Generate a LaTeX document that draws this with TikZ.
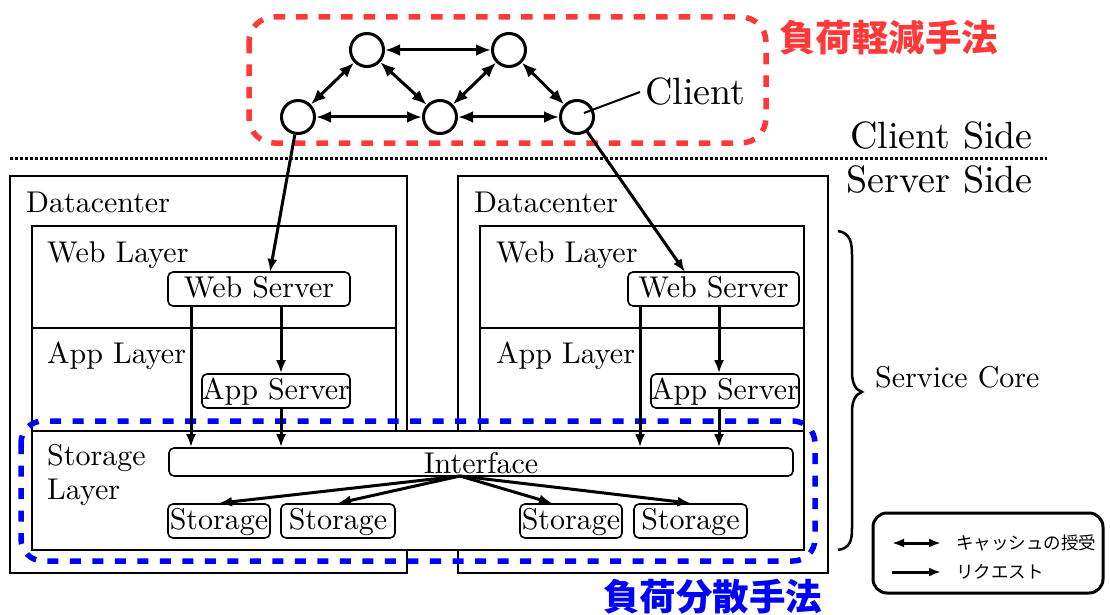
\documentclass[tikz,border=0pt]{standalone}
\usepackage{fontspec}
\setmainfont{lmroman10-regular.otf}
\newfontfamily\jp{Noto Sans CJK JP}
\usetikzlibrary{arrows.meta,calc}
\definecolor{loadred}{RGB}{255,56,56}
\definecolor{loadblue}{RGB}{0,0,255}
\newcommand\midsize{\fontsize{30}{36}\selectfont}
\newcommand\bigsize{\fontsize{38}{44}\selectfont}
\begin{document}
\begin{tikzpicture}[x=1pt,y=-1pt,
  frame/.style={draw,line width=1.6pt},
  peer/.style={circle,draw,line width=3pt,minimum size=33pt,inner sep=0pt,fill=white},
  srv/.style={draw,line width=1.6pt,rounded corners=5pt,fill=white,inner sep=0pt,
    text height=25pt,text depth=8pt,minimum height=34pt,font=\midsize},
  cache/.style={line width=3pt,{Latex[length=15pt,width=12pt]}-{Latex[length=15pt,width=12pt]}},
  req/.style={line width=3pt,-{Latex[length=13pt,width=10pt]}},
  lbl/.style={inner sep=0pt,anchor=base west,font=\midsize},
  biglbl/.style={inner sep=0pt,font=\bigsize},
  legtxt/.style={inner sep=0pt,anchor=west,font=\jp\fontsize{17.5}{20}\selectfont},
  legarrow/.style={line width=3pt},
]
\useasboundingbox (0,0) rectangle (1110,615);

% load-reduction region around the clients
\draw[loadred,line width=5.5pt,dash pattern=on 11.5pt off 11pt,rounded corners=25pt]
  (249,17) rectangle (766,143);
\node[anchor=west,inner sep=0pt,text=loadred,font=\jp\bfseries\fontsize{36.5}{40}\selectfont]
  (redtitle) at (779,38) {負荷軽減手法};

% client / server boundary
\draw[line width=3pt,dash pattern=on 3pt off 2pt] (10,158) -- (1047,158);
\node[biglbl,anchor=base east] (cside) at (1033,148) {Client Side};
\node[biglbl,anchor=base east] (sside) at (1033,192) {Server Side};

% datacenters
\draw[frame] (10,176) rectangle (407,573);
\draw[frame] (458,176) rectangle (828,573);
\node[lbl] (dc1) at (26,212) {Datacenter};
\node[lbl] (dc2) at (474,212) {Datacenter};

% web and app layers
\draw[frame] (32,226) rectangle (396,328);
\draw[frame] (32,328) rectangle (396,431);
\draw[frame] (480,226) rectangle (804,328);
\draw[frame] (480,328) rectangle (804,431);
\node[lbl] (wl1) at (47,262) {Web Layer};
\node[lbl] (al1) at (47,363) {App Layer};
\node[lbl] (wl2) at (496,262) {Web Layer};
\node[lbl] (al2) at (496,363) {App Layer};

% shared storage layer
\draw[frame,fill=white] (32,431) rectangle (804,550);
\node[lbl] (sl1) at (47,465) {Storage};
\node[lbl] (sl2) at (47,499) {Layer};

% load-distribution region
\draw[loadblue,line width=5.5pt,dash pattern=on 11pt off 11.5pt,rounded corners=22pt]
  (21,421) rectangle (815,561);
\node[anchor=west,inner sep=0pt,text=loadblue,font=\jp\bfseries\fontsize{36.5}{40}\selectfont]
  (bluetitle) at (603,597) {負荷分散手法};

% servers
\node[srv,minimum width=182pt] (WSL) at (259,289) {Web Server};
\node[srv,minimum width=148pt] (ASL) at (276,391) {App Server};
\node[srv,minimum width=171pt] (WSR) at (713.5,289) {Web Server};
\node[srv,minimum width=148pt] (ASR) at (725,391) {App Server};
\node[srv,minimum width=624pt,minimum height=28pt,text depth=3pt] (IF) at (481,462) {Interface};
\node[srv,minimum width=102pt] (S1) at (219,521) {Storage};
\node[srv,minimum width=114pt] (S2) at (338,521) {Storage};
\node[srv,minimum width=102pt] (S3) at (571,521) {Storage};
\node[srv,minimum width=113pt] (S4) at (690.5,521) {Storage};

% request paths inside the datacenters
\coordinate (xl1) at (191,0);
\coordinate (xl2) at (281,0);
\coordinate (xr1) at (640,0);
\coordinate (xr2) at (719,0);
\draw[req] (WSL.south -| xl1) -- (IF.north -| xl1);
\draw[req] (WSL.south -| xl2) -- (ASL.north -| xl2);
\draw[req] (ASL.south -| xl2) -- (IF.north -| xl2);
\draw[req] (WSR.south -| xr1) -- (IF.north -| xr1);
\draw[req] (WSR.south -| xr2) -- (ASR.north -| xr2);
\draw[req] (ASR.south -| xr2) -- (IF.north -| xr2);
\coordinate (fan) at (460,476);
\draw[req] (fan) -- (S1.north);
\draw[req] (fan) -- (S2.north);
\draw[req] (fan) -- ($(S3.north)+(-19,0)$);
\draw[req] (fan) -- (S4.north);

% clients
\node[peer] (A) at (298,117) {};
\node[peer] (B) at (367,50) {};
\node[peer] (C) at (509,50) {};
\node[peer] (D) at (440,117) {};
\node[peer] (E) at (577,117) {};
\draw[cache] (A) -- (B);
\draw[cache] (B) -- (C);
\draw[cache] (B) -- (D);
\draw[cache] (C) -- (D);
\draw[cache] (C) -- (E);
\draw[cache] (A) -- (D);
\draw[cache] (D) -- (E);
\node[biglbl,anchor=base west] (cl) at (645,105) {Client};
\coordinate (Epin) at (584,113);
\draw[line width=2pt] (Epin) -- ([xshift=-5pt]cl.west);

% client requests into the web servers
\coordinate (wsa) at (270,272);
\coordinate (wsb) at (685,272);
\draw[req] (A) -- (wsa);
\draw[req] (E) -- (wsb);

% service core brace
\draw[line width=2.5pt]
  (838,231) .. controls (850,233) and (852,242) .. (852,255) -- (852,372)
  .. controls (852,384) and (856,390) .. (862,392)
  .. controls (856,394) and (852,400) .. (852,412) -- (852,528)
  .. controls (852,541) and (850,548) .. (838,550);
\node[lbl] (core) at (875,387) {Service Core};

% legend
\draw[line width=3pt,rounded corners=14pt] (873,513) rectangle (1103,593);
\coordinate (k1a) at (892,543);
\coordinate (k1b) at (941,543);
\coordinate (k2a) at (892,572);
\coordinate (k2b) at (941,572);
\draw[legarrow,{Latex[length=12pt,width=9pt]}-{Latex[length=12pt,width=9pt]}] (k1a) -- (k1b);
\draw[legarrow,-{Latex[length=12pt,width=9pt]}] (k2a) -- (k2b);
\node[legtxt] (lg1) at (956,543) {キャッシュの授受};
\node[legtxt] (lg2) at (956,572) {リクエスト};
\end{tikzpicture}
\end{document}
